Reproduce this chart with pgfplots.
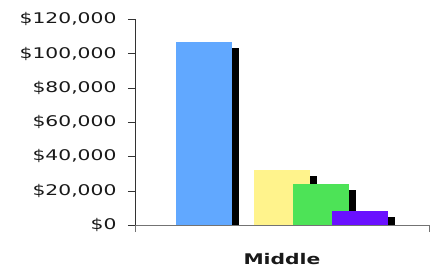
\documentclass[border=0pt]{standalone}
\usepackage{fontspec}
\setmainfont{DejaVu Sans}[FakeStretch=1.38]
\usepackage{pgfplots}
\pgfplotsset{compat=1.18}
\definecolor{cblue}{RGB}{97,168,255}
\definecolor{cyellow}{RGB}{255,243,140}
\definecolor{cgreen}{RGB}{77,227,87}
\definecolor{cpurple}{RGB}{106,16,255}
\begin{document}
\begin{tikzpicture}
\path[use as bounding box] (0,0) rectangle (437pt,268pt);
\begin{axis}[
  at={(135pt,43pt)}, anchor=south west,
  scale only axis, width=294pt, height=205.7pt,
  xmin=-0.5, xmax=0.5, ymin=0, ymax=120000,
  axis x line=bottom, axis y line=left,
  axis line style={-},
  x axis line style={black!55},
  y axis line style={black!80},
  tick align=outside, major tick length=7pt,
  xtick={-0.5,0.5}, xticklabels={},
  x tick style={black!55},
  y tick style={black!80},
  extra x ticks={0}, extra x tick labels={\textbf{Middle}},
  extra x tick style={major tick length=0pt, tick label style={yshift=-25pt}},
  ytick={0,20000,40000,60000,80000,100000,120000},
  scaled y ticks=false,
  /pgf/number format/assume math mode=true,
  /pgf/number format/fixed, /pgf/number format/precision=0,
  /pgf/number format/1000 sep={,},
  yticklabel={\$\pgfmathprintnumber{\tick}},
  yticklabel style={xshift=-8pt},
  tick label style={font=\fontsize{14.7pt}{16pt}\selectfont, text=black!90},
  clip=false,
]
% blue
\addplot[ybar, bar width=56pt, bar shift=-71pt, fill=black, draw=none] coordinates {(0,103200)};
\addplot[ybar, bar width=56pt, bar shift=-78pt, fill=cblue, draw=none] coordinates {(0,106700)};
% second series (zero, draws nothing)
\addplot[ybar, bar width=56pt, bar shift=-39pt, fill=none, draw=none] coordinates {(0,0)};
% yellow
\addplot[ybar, bar width=56pt, bar shift=7pt, fill=black, draw=none] coordinates {(0,28500)};
\addplot[ybar, bar width=56pt, bar shift=0pt, fill=cyellow, draw=none] coordinates {(0,32000)};
% green
\addplot[ybar, bar width=56pt, bar shift=46pt, fill=black, draw=none] coordinates {(0,20500)};
\addplot[ybar, bar width=56pt, bar shift=39pt, fill=cgreen, draw=none] coordinates {(0,24000)};
% purple
\addplot[ybar, bar width=56pt, bar shift=85pt, fill=black, draw=none] coordinates {(0,4500)};
\addplot[ybar, bar width=56pt, bar shift=78pt, fill=cpurple, draw=none] coordinates {(0,8000)};
\end{axis}
\end{tikzpicture}
\end{document}
